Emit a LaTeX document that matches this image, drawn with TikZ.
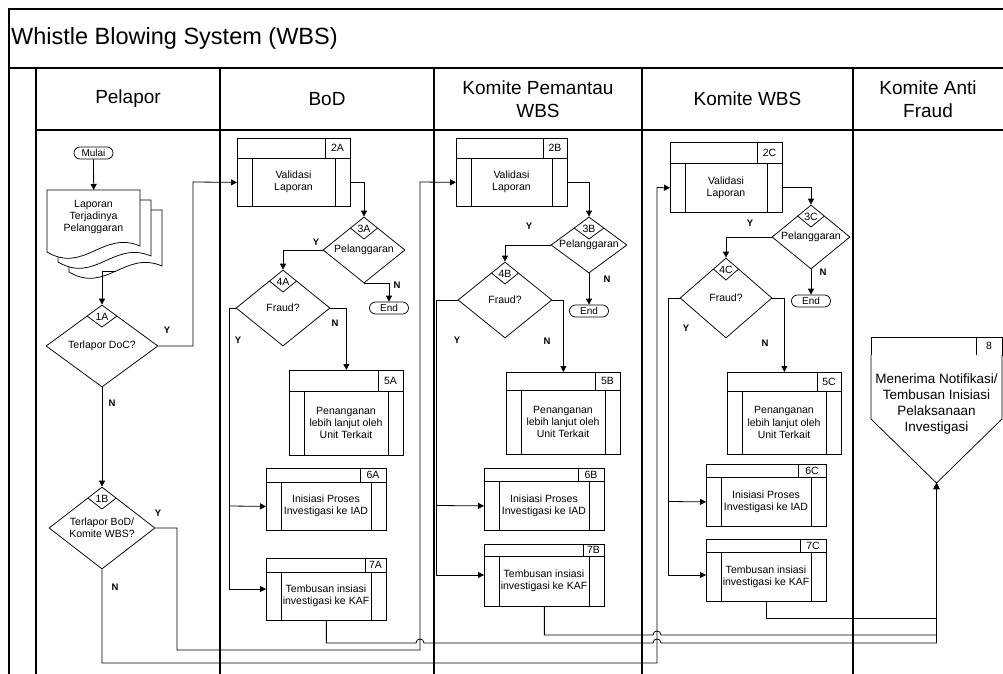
\documentclass[tikz,border=0pt]{standalone}
\usepackage{fontspec}
\setmainfont{Liberation Sans}
\usetikzlibrary{arrows.meta,shapes.geometric,calc}

\tikzset{
  lane/.style={line width=1.1pt},
  shp/.style={draw, line width=0.75pt, fill=white, inner sep=0pt},
  inner/.style={line width=0.75pt},
  con/.style={line width=0.8pt},
  arr/.style={con, -{Triangle[length=6pt,width=6pt]}},
  boxtxt/.style={font=\fontsize{10.5}{12.2}\selectfont, align=center, inner sep=0pt},
  numtxt/.style={font=\fontsize{10.5}{11}\selectfont, inner sep=0pt},
  yn/.style={font=\bfseries\fontsize{9.5}{10}\selectfont, inner sep=0pt},
  hdr/.style={font=\fontsize{19}{23}\selectfont, align=center, inner sep=0pt},
  term/.style={shp, rectangle, rounded corners=6pt, minimum height=12pt, minimum width=39pt, font=\fontsize{10}{10}\selectfont},
}

% process box: name, x1, y1, x2, y2, header bottom, tag box left, tag, text
\newcommand{\procbox}[9]{%
  \node[shp, rectangle, anchor=north west, minimum width={(#4-#2)*1pt}, minimum height={(#6-#3)*1pt}] (#1h) at (#2,#3) {};
  \node[shp, rectangle, anchor=north west, minimum width={(#4-#2)*1pt}, minimum height={(#5-#6)*1pt}] (#1) at (#2,#6) {};
  \draw[inner] (#7,#3) -- (#7,#6) (#2+15,#6) -- (#2+15,#5) (#4-15,#6) -- (#4-15,#5);
  \node[numtxt] (#1n) at ({(#7+#4)/2},{(#3+#6)/2}) {#8};
  \node[boxtxt] (#1t) at ({(#2+#4)/2},{(#6+#5)/2}) {#9};
}

% decision: name, cx, cy, half width, half height, tag, text
\newcommand{\decision}[7]{%
  \node[shp, diamond, minimum width={2*#4pt}, minimum height={2*#5pt}] (#1) at (#2,#3) {};
  \pgfmathsetmacro{\vw}{11*#4/#5}%
  \draw[inner] ({#2-\vw},{#3-#5+11}) -- (#2,{#3-#5+22}) -- ({#2+\vw},{#3-#5+11});
  \node[numtxt] (#1n) at (#2,{#3-#5+11.5}) {#6};
  \node[boxtxt] (#1t) at (#2,#3) {#7};
}

% one sheet of the report stack: left x, top y
\newcommand{\docsheet}[2]{%
  \filldraw[line width=0.75pt, fill=white] (#1,#2) -- (#1+93,#2) -- (#1+93,#2+56)
    .. controls (#1+55.8,#2+40) and (#1+37.2,#2+84) .. (#1,#2+62) -- cycle;
}

\begin{document}
\begin{tikzpicture}[x=1pt,y=-1pt]
\useasboundingbox (0,0) rectangle (1003,674);

% pool and lanes
\draw[lane] (1003,9) -- (9,9) -- (9,674);
\draw[lane] (9,68) -- (1003,68);
\draw[lane] (36,130) -- (1003,130);
\foreach \x in {36,220,434,642,853} \draw[lane] (\x,68) -- (\x,674);

\node[anchor=west, inner sep=0pt, font=\fontsize{23.5}{26}\selectfont] (title) at (11,38) {Whistle Blowing System (WBS)};
\node[hdr] (hPel) at (128,99) {Pelapor};
\node[hdr] (hBoD) at (327,99) {BoD};
\node[hdr] (hKPW) at (538,99) {Komite Pemantau\\WBS};
\node[hdr] (hKW)  at (747.5,99) {Komite WBS};
\node[hdr] (hKAF) at (928,99) {Komite Anti\\Fraud};

% ---- Pelapor ----
\node[term] (mulai) at (93.5,153) {Mulai};
\docsheet{69}{210}
\docsheet{58}{200}
\docsheet{47}{190}
\node[inner sep=0pt, minimum width=93pt, minimum height=62pt, anchor=north west] (doc) at (47,190) {};
\node[boxtxt] (doct) at (93.5,217) {Laporan\\Terjadinya\\Pelanggaran};
\coordinate (docout) at (115.5,271.2);

\decision{d1A}{102}{346}{56}{41}{1A}{Terlapor DoC?}
\decision{d1B}{102}{528}{53}{41}{1B}{Terlapor BoD/\\Komite WBS?}

\node[yn] (l1AY) at (167,330) {Y};
\node[yn] (l1AN) at (112,403) {N};
\node[yn] (l1BY) at (158,513) {Y};
\node[yn] (l1BN) at (115,587) {N};

% ---- BoD ----
\procbox{p2A}{237}{138}{350}{206}{158}{325}{2A}{Validasi\\Laporan}
\decision{d3A}{364}{250}{41}{33}{3A}{Pelanggaran}
\node[term] (endA) at (389,308) {End};
\decision{d4A}{283}{308}{47}{38}{4A}{Fraud?}
\procbox{p5A}{289}{370}{403}{455}{391}{378}{5A}{Penanganan\\lebih lanjut oleh\\Unit Terkait}
\procbox{p6A}{266}{468}{386}{530}{482}{360}{6A}{Inisiasi Proses\\Investigasi ke IAD}
\procbox{p7A}{266}{558}{386}{620}{572}{365}{7A}{Tembusan insiasi\\investigasi ke KAF}
\node[yn] (l3AY) at (316,242) {Y};
\node[yn] (l3AN) at (397,285) {N};
\node[yn] (l4AN) at (335,323) {N};
\node[yn] (l4AY) at (238,340) {Y};

% ---- Komite Pemantau WBS ----
\procbox{p2B}{456}{138}{567}{206}{158}{543}{2B}{Validasi\\Laporan}
\decision{d3B}{589}{245}{38}{28}{3B}{Pelanggaran}
\node[term] (endB) at (589,311) {End};
\decision{d4B}{505}{300}{47}{38}{4B}{Fraud?}
\procbox{p5B}{506}{372}{620}{454}{390}{595}{5B}{Penanganan\\lebih lanjut oleh\\Unit Terkait}
\procbox{p6B}{484}{468}{604}{530}{481}{578}{6B}{Inisiasi Proses\\Investigasi ke IAD}
\procbox{p7B}{484}{544}{604}{606}{556}{583}{7B}{Tembusan insiasi\\investigasi ke KAF}
\node[yn] (l3BY) at (529,226) {Y};
\node[yn] (l3BN) at (607,279) {N};
\node[yn] (l4BY) at (457,340) {Y};
\node[yn] (l4BN) at (547,341) {N};

% ---- Komite WBS ----
\procbox{p2C}{670}{142}{782}{212}{163}{757}{2C}{Validasi\\Laporan}
\decision{d3C}{811}{237}{39}{32}{3C}{Pelanggaran}
\node[term] (endC) at (811,301) {End};
\decision{d4C}{726}{298}{46}{40}{4C}{Fraud?}
\procbox{p5C}{727}{372}{841}{454}{391}{817}{5C}{Penanganan\\lebih lanjut oleh\\Unit Terkait}
\procbox{p6C}{706}{464}{826}{526}{477}{798}{6C}{Inisiasi Proses\\Investigasi ke IAD}
\procbox{p7C}{706}{539}{826}{601}{552}{800}{7C}{Tembusan insiasi\\investigasi ke KAF}
\node[yn] (l3CY) at (750,223) {Y};
\node[yn] (l3CN) at (823,272) {N};
\node[yn] (l4CY) at (686,328) {Y};
\node[yn] (l4CN) at (765,343) {N};

% ---- Komite Anti Fraud: off-page notification ----
\node[shp, rectangle, anchor=north west, minimum width=131pt, minimum height=18pt] (n8h) at (871,337) {};
\filldraw[line width=0.75pt, fill=white] (871,355) -- (871,419) -- (936.5,483) -- (1002,419) -- (1002,355);
\draw[inner] (976,337) -- (976,355);
\node[numtxt] (n8n) at (989,346) {8};
\node[font=\fontsize{13.5}{16}\selectfont, align=center, inner sep=0pt] (n8t) at (936.5,404) {Menerima Notifikasi/\\Tembusan Inisiasi\\Pelaksanaan\\Investigasi};
\coordinate (n8tip) at (936.5,483);

% ---- connectors ----
\draw[arr] (mulai.south) -- (doc.north);
\draw[arr] (docout) -| (d1A.north);
\draw[arr] (d1A.south) -- (d1B.north);
\draw[arr] (d1A.east) -| (193,182) -- (p2A.west);
\draw[arr] (d1B.east) -| (177,650) -| (420,182) -- (p2B.west);
\draw[arr] (d1B.south) |- (657,663) -- (657,187.5) -- (p2C.west);

\draw[arr] (p2A.east) -| (d3A.north);
\draw[arr] (d3A.west) -| (d4A.north);
\draw[arr] (d3A.south) -| (endA.north);
\draw[arr] (d4A.east) -| (p5Ah.north);
\draw[arr] (d4A.west) -| (229,589) -- (p7A.west |- 0,589);
\draw[arr] (229,506) -- (p6A.west);

\draw[arr] (p2B.east) -| (d3B.north);
\draw[arr] (d3B.west) -| (d4B.north);
\draw[arr] (d3B.south) -- (endB.north);
\draw[arr] (d4B.east) -| (p5Bh.north);
\draw[arr] (d4B.west) -| (436,575) -- (p7B.west |- 0,575);
\draw[arr] (436,505.5) -- (p6B.west);

\draw[arr] (p2C.east) -| (d3C.north);
\draw[arr] (d3C.west) -| (d4C.north);
\draw[arr] (d3C.south) -- (endC.north);
\draw[arr] (d4C.east) -| (p5Ch.north);
\draw[arr] (d4C.west) -| (668,575) -- (p7C.west |- 0,575);
\draw[arr] (668,501.5) -- (p6C.west);

% copies to the anti-fraud committee, hopping over crossing lines
\draw[arr] (p7A.south) |- (416,643) .. controls (416,637.7) and (424,637.7) .. (424,643)
  -- (653,643) .. controls (653,637.7) and (661,637.7) .. (661,643) -| (n8tip);
\draw[arr] (p7B.south) |- (653,635) .. controls (653,629.7) and (661,629.7) .. (661,635) -| (n8tip);
\draw[arr] (p7C.south) |- (936.5,618) -- (n8tip);
\end{tikzpicture}
\end{document}
